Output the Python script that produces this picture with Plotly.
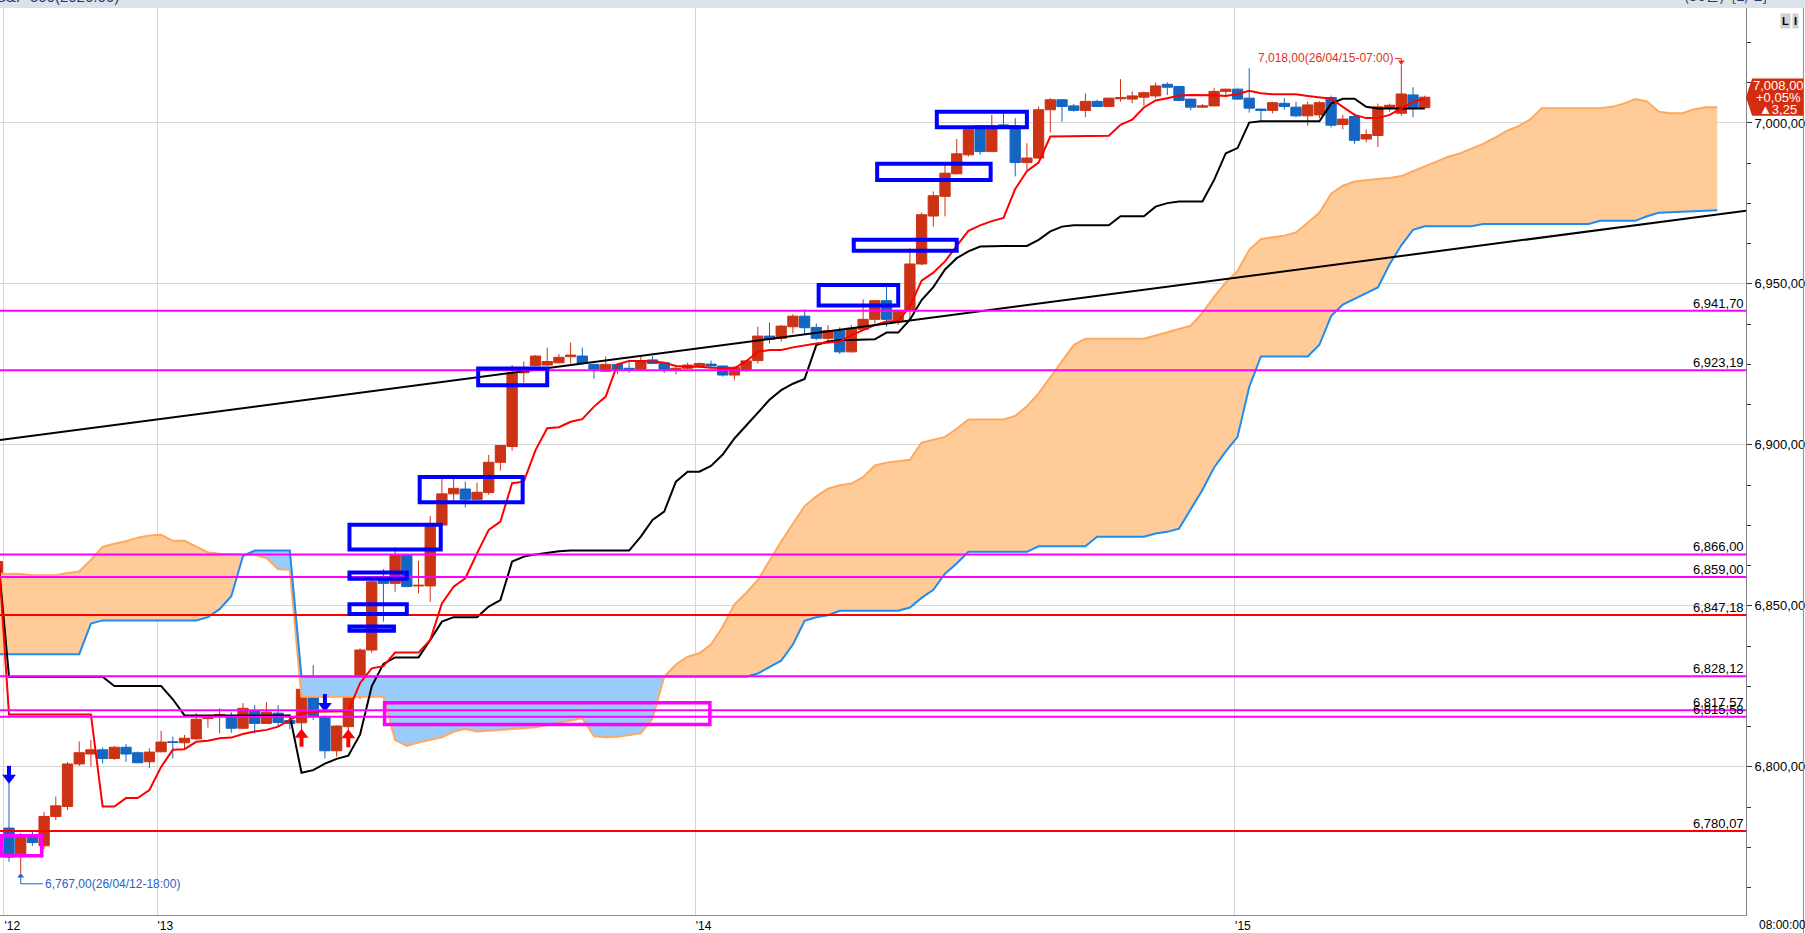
import plotly.graph_objects as go

# ---- data (30-minute bars, bar 0 = first bar after the weekend gap) ----
candle_k = list(range(-1, 122))
opens = [
    6859.1, 6781.0, 6773.0, 6778.5, 6775.5, 6784.6, 6787.7, 6800.9, 6804.0, 6805.3,
    6802.6, 6806.1, 6804.4, 6801.6, 6804.7, 6807.8, 6807.5, 6808.7, 6815.0, 6815.9,
    6815.6, 6812.0, 6817.5, 6813.5, 6816.7, 6814.4, 6813.7, 6824.4, 6815.4, 6805.0,
    6812.5, 6821.8, 6836.3, 6858.3, 6857.0, 6865.8, 6856.2, 6856.2, 6875.1, 6884.8,
    6886.3, 6883.1, 6885.2, 6894.6, 6899.5, 6922.4, 6924.6, 6924.8, 6925.5, 6927.4,
    6927.6, 6925.0, 6922.9, 6925.0, 6923.8, 6923.5, 6926.4, 6925.5, 6923.1, 6923.8,
    6924.3, 6925.1, 6924.5, 6921.7, 6923.3, 6926.2, 6933.8, 6933.1, 6936.7, 6940.0,
    6936.5, 6933.1, 6935.5, 6928.9, 6935.9, 6939.0, 6944.8, 6938.7, 6941.8, 6956.2,
    6971.1, 6977.2, 6984.2, 6990.1, 6999.1, 6991.1, 6999.4, 6999.1, 6987.7, 6989.1,
    7004.1, 7007.2, 7005.3, 7003.9, 7006.7, 7005.1, 7007.5, 7007.4, 7008.0, 7008.4,
    7012.0, 7011.3, 7007.4, 7004.9, 7005.3, 7009.8, 7010.5, 7007.7, 7004.3, 7003.9,
    7006.1, 7004.9, 7002.2, 7002.5, 7007.9, 6999.5, 7002.0, 6995.0, 6996.1, 7004.8,
    7003.0, 7008.7, 7004.75,
]
highs = [
    6864.5, 6795.0, 6779.5, 6780.0, 6786.0, 6790.8, 6801.5, 6807.9, 6808.4, 6806.0,
    6806.5, 6807.1, 6804.8, 6805.8, 6811.2, 6809.4, 6809.9, 6816.7, 6816.0, 6818.2,
    6817.0, 6819.8, 6819.2, 6820.1, 6819.2, 6815.6, 6824.3, 6831.6, 6816.0, 6812.9,
    6824.7, 6836.8, 6858.0, 6861.4, 6868.2, 6866.0, 6864.0, 6877.9, 6889.6, 6889.6,
    6888.6, 6888.3, 6896.9, 6900.0, 6924.8, 6925.9, 6927.9, 6930.2, 6928.2, 6931.8,
    6930.2, 6925.2, 6927.5, 6925.2, 6925.9, 6927.4, 6927.6, 6925.7, 6924.8, 6925.5,
    6925.6, 6926.2, 6924.7, 6924.4, 6926.2, 6936.7, 6938.0, 6937.2, 6940.6, 6942.1,
    6937.7, 6937.2, 6936.5, 6937.2, 6945.2, 6945.0, 6949.6, 6942.0, 6961.1, 6972.2,
    6978.7, 6987.0, 6995.0, 6998.1, 6999.4, 7002.5, 7003.5, 7001.5, 6993.7, 7005.1,
    7007.7, 7007.4, 7005.9, 7009.2, 7007.2, 7007.8, 7013.6, 7009.8, 7009.8, 7012.6,
    7012.6, 7011.5, 7007.5, 7005.9, 7010.8, 7010.6, 7010.7, 7017.0, 7004.4, 7006.6,
    7007.7, 7006.6, 7006.6, 7006.8, 7008.5, 7002.5, 7003.0, 6998.0, 7006.0, 7006.0,
    7018.0, 7011.1, 7008.5,
]
lows = [
    6858.5, 6770.5, 6767.0, 6775.5, 6774.5, 6783.5, 6786.6, 6800.3, 6800.1, 6801.1,
    6802.2, 6801.6, 6801.1, 6799.6, 6804.5, 6802.6, 6805.3, 6808.5, 6812.2, 6810.4,
    6810.6, 6811.8, 6810.4, 6813.3, 6812.5, 6811.7, 6811.5, 6814.6, 6802.6, 6803.2,
    6811.0, 6821.0, 6835.5, 6845.1, 6854.4, 6855.8, 6853.9, 6851.3, 6874.8, 6882.9,
    6880.6, 6883.0, 6884.5, 6892.0, 6898.2, 6919.3, 6924.4, 6924.6, 6925.3, 6925.3,
    6925.0, 6920.5, 6922.7, 6922.0, 6922.4, 6923.3, 6925.1, 6922.4, 6922.0, 6923.3,
    6924.0, 6923.8, 6921.2, 6920.1, 6922.7, 6925.3, 6931.5, 6932.1, 6934.6, 6934.6,
    6932.6, 6931.5, 6928.2, 6928.7, 6935.5, 6937.7, 6936.7, 6937.3, 6938.9, 6955.8,
    6967.8, 6971.0, 6984.0, 6989.6, 6990.1, 6991.0, 6999.0, 6983.4, 6985.4, 6988.8,
    6997.0, 7000.4, 7003.5, 7001.8, 7005.0, 7005.0, 7006.6, 7006.1, 7005.3, 7007.7,
    7008.7, 7006.7, 7003.9, 7004.7, 7005.2, 7008.4, 7007.2, 7003.2, 7000.4, 7003.0,
    7004.1, 7001.8, 6999.1, 7001.5, 6998.6, 6998.0, 6993.5, 6994.0, 6992.5, 7003.5,
    7002.2, 7001.8, 7004.3,
]
closes = [
    6863.8, 6772.0, 6778.5, 6776.5, 6784.6, 6787.9, 6800.9, 6804.4, 6805.3, 6802.6,
    6806.1, 6804.0, 6801.3, 6804.6, 6807.7, 6807.6, 6808.9, 6814.8, 6815.8, 6816.3,
    6812.0, 6818.2, 6813.5, 6817.0, 6813.8, 6813.5, 6824.1, 6815.8, 6805.0, 6812.7,
    6822.6, 6836.3, 6857.5, 6857.0, 6865.8, 6856.0, 6856.4, 6874.9, 6884.8, 6886.5,
    6883.1, 6885.3, 6894.6, 6899.8, 6922.4, 6923.3, 6927.6, 6925.9, 6927.2, 6927.9,
    6925.3, 6923.5, 6925.0, 6923.5, 6923.5, 6926.2, 6925.3, 6923.5, 6923.8, 6924.8,
    6925.3, 6924.5, 6921.7, 6924.1, 6926.1, 6933.8, 6932.8, 6936.9, 6940.0, 6936.4,
    6933.1, 6935.5, 6928.9, 6936.2, 6939.0, 6944.8, 6939.0, 6941.8, 6956.2, 6971.5,
    6977.4, 6984.4, 6990.4, 6997.9, 6991.1, 6999.1, 6999.1, 6987.7, 6989.1, 7004.1,
    7007.2, 7005.1, 7003.9, 7006.7, 7005.1, 7007.7, 7007.9, 7008.4, 7009.4, 7011.5,
    7011.1, 7007.0, 7004.9, 7005.3, 7009.8, 7010.5, 7007.4, 7004.6, 7003.9, 7006.3,
    7005.1, 7002.2, 7005.6, 7006.3, 6999.3, 7001.2, 6994.6, 6996.4, 7005.0, 7005.5,
    7009.0, 7004.75, 7008.0,
]

tenkan = [
    6871.0, 6816.3, 6816.3, 6816.3, 6816.3, 6816.3, 6816.3, 6816.3, 6816.3, 6787.7,
    6787.7, 6790.3, 6790.3, 6792.8, 6800.0, 6805.3, 6805.5, 6807.8, 6808.1, 6808.9,
    6809.1, 6810.2, 6811.0, 6811.5, 6812.5, 6814.6, 6816.5, 6817.1, 6817.1, 6817.1,
    6817.3, 6826.0, 6830.6, 6831.3, 6835.5, 6835.5, 6835.5, 6839.4, 6850.8, 6856.0,
    6858.6, 6866.3, 6873.6, 6876.2, 6888.1, 6888.6, 6898.4, 6905.2, 6905.5, 6907.2,
    6908.0, 6911.9, 6915.0, 6925.0, 6926.1, 6926.1, 6926.0, 6925.5, 6924.5, 6924.3,
    6924.3, 6924.0, 6923.8, 6923.8, 6926.0, 6928.9, 6929.5, 6929.5, 6930.3, 6931.0,
    6931.5, 6931.8, 6932.1, 6934.1, 6935.7, 6937.2, 6938.3, 6938.5, 6943.0, 6951.0,
    6953.5, 6957.0, 6961.8, 6966.5, 6968.2, 6969.5, 6970.5, 6979.5, 6985.0, 6987.7,
    6995.8, 6995.8, 6995.8, 6995.8, 6995.8, 6996.0, 6999.4, 7001.0, 7004.8, 7007.0,
    7007.7, 7008.5, 7008.7, 7008.7, 7008.6, 7008.4, 7009.0, 7010.0, 7009.2, 7008.9,
    7008.9, 7008.9, 7008.4, 7008.0, 7007.5, 7005.0, 7002.5, 7001.5, 7001.5, 7002.5,
    7004.5, 7006.5, 7007.5,
]
kijun = [
    6868.0, 6828.0, 6828.0, 6828.0, 6828.0, 6828.0, 6828.0, 6828.0, 6828.0, 6828.0,
    6825.1, 6825.1, 6825.1, 6825.1, 6825.1, 6821.0, 6816.0, 6816.0, 6816.0, 6816.0,
    6816.0, 6816.0, 6816.0, 6816.0, 6816.0, 6816.0, 6798.2, 6799.0, 6801.0, 6802.5,
    6803.5, 6810.0, 6825.0, 6832.0, 6834.0, 6834.0, 6834.0, 6839.4, 6845.1, 6846.5,
    6846.5, 6846.5, 6849.8, 6851.8, 6863.8, 6865.3, 6866.0, 6866.6, 6867.0, 6867.2,
    6867.2, 6867.2, 6867.2, 6867.2, 6867.2, 6871.5, 6876.7, 6879.3, 6888.6, 6891.7,
    6891.7, 6893.5, 6897.0, 6902.0, 6906.0, 6910.0, 6914.0, 6917.0, 6919.0, 6920.5,
    6931.0, 6932.1, 6932.6, 6932.6, 6932.8, 6932.8, 6934.9, 6934.9, 6938.9, 6945.0,
    6949.0, 6954.5, 6958.0, 6960.1, 6961.6, 6961.8, 6961.8, 6961.8, 6961.8, 6963.7,
    6966.3, 6967.8, 6968.2, 6968.2, 6968.2, 6968.2, 6971.0, 6971.0, 6971.0, 6974.0,
    6975.1, 6975.6, 6975.6, 6975.6, 6982.3, 6990.6, 6992.2, 7000.1, 7000.5, 7000.5,
    7000.5, 7000.5, 7000.5, 7000.5, 7006.0, 7007.5, 7007.5, 7005.0, 7004.5, 7004.5,
    7004.5, 7004.5, 7004.5,
]

# leading spans run 25 bars past the last candle
span_k = list(range(-1, 147))
span_a = [
    6860.0, 6859.9, 6859.9, 6859.5, 6859.5, 6859.5, 6860.2, 6860.7, 6864.3, 6868.3,
    6869.3, 6870.1, 6871.2, 6871.9, 6872.1, 6870.2, 6870.2, 6868.3, 6866.6, 6866.2,
    6866.2, 6866.0, 6865.8, 6864.9, 6861.4, 6861.2, 6821.8, 6821.8, 6821.8, 6821.8,
    6821.8, 6821.8, 6821.8, 6821.8, 6808.3, 6806.5, 6807.6, 6808.5, 6809.2, 6810.9,
    6811.8, 6811.0, 6811.2, 6811.5, 6811.8, 6812.0, 6812.3, 6813.0, 6813.7, 6814.4,
    6815.1, 6809.5, 6809.2, 6809.4, 6809.8, 6810.4, 6815.0, 6828.0, 6831.8, 6834.2,
    6835.3, 6838.0, 6843.5, 6850.5, 6854.0, 6858.0, 6864.0, 6870.0, 6875.5, 6881.0,
    6884.0, 6886.4, 6887.5, 6888.0, 6890.0, 6893.6, 6894.5, 6895.0, 6895.4, 6900.7,
    6901.5, 6902.5, 6905.0, 6907.9, 6907.9, 6907.9, 6907.9, 6909.0, 6912.0, 6916.0,
    6921.0, 6926.0, 6931.0, 6933.0, 6933.0, 6933.0, 6933.0, 6933.0, 6933.0, 6934.0,
    6935.0, 6936.0, 6937.0, 6941.0, 6946.0, 6950.5, 6954.0, 6960.6, 6963.9, 6964.5,
    6965.0, 6966.0, 6969.0, 6972.1, 6978.0, 6980.5, 6981.8, 6982.3, 6982.6, 6982.9,
    6983.5, 6985.0, 6986.4, 6988.0, 6989.5, 6990.5, 6992.0, 6993.5, 6995.4, 6997.5,
    6999.0, 7001.0, 7004.6, 7004.6, 7004.6, 7004.6, 7004.6, 7004.6, 7005.0, 7006.0,
    7007.4, 7006.7, 7003.5, 7003.0, 7003.0, 7004.2, 7004.9, 7004.9,
]
span_b = [
    6835.0, 6835.0, 6835.0, 6835.0, 6835.0, 6835.0, 6835.0, 6835.0, 6844.5, 6845.5,
    6845.5, 6845.5, 6845.5, 6845.5, 6845.5, 6845.5, 6845.5, 6845.5, 6846.5, 6849.0,
    6853.0, 6865.5, 6867.2, 6867.2, 6867.2, 6867.2, 6828.0, 6828.0, 6828.0, 6828.0,
    6828.0, 6828.0, 6828.0, 6828.0, 6828.0, 6828.0, 6828.0, 6828.0, 6828.0, 6828.0,
    6828.0, 6828.0, 6828.0, 6828.0, 6828.0, 6828.0, 6828.0, 6828.0, 6828.0, 6828.0,
    6828.0, 6828.0, 6828.0, 6828.0, 6828.0, 6828.0, 6828.0, 6828.0, 6828.0, 6828.0,
    6828.0, 6828.0, 6828.0, 6828.0, 6828.0, 6829.0, 6831.0, 6833.0, 6838.0, 6845.4,
    6846.5, 6847.1, 6848.5, 6848.5, 6848.5, 6848.5, 6848.5, 6848.5, 6849.5, 6852.5,
    6855.0, 6860.0, 6863.2, 6866.8, 6866.8, 6866.8, 6866.8, 6866.8, 6866.8, 6868.5,
    6868.5, 6868.5, 6868.5, 6868.5, 6871.5, 6871.5, 6871.5, 6871.5, 6871.5, 6872.5,
    6873.0, 6874.0, 6880.0, 6886.0, 6893.0, 6898.0, 6902.5, 6918.0, 6927.5, 6927.5,
    6927.5, 6927.5, 6927.5, 6931.1, 6940.0, 6943.6, 6945.4, 6947.0, 6948.9, 6956.1,
    6962.0, 6966.8, 6967.9, 6967.9, 6967.9, 6967.9, 6967.9, 6968.6, 6968.6, 6968.6,
    6968.6, 6968.6, 6968.6, 6968.6, 6968.6, 6968.6, 6968.6, 6969.6, 6969.6, 6969.6,
    6969.6, 6971.0, 6972.1, 6972.3, 6972.5, 6972.7, 6972.9, 6972.9,
]

trend_k = [-1, 149]
trend_val = [6901.4, 6973.0]

magenta_levels = [6941.70, 6923.19, 6866.00, 6859.00, 6828.12, 6817.57, 6815.58]
red_levels = [6847.18, 6780.07]

# drawn boxes: (k from, k to, low, high)
blue_box_k0 = [40.1, 35.1, 29.1, 29.1, 29.1, 29.1, 69.2, 72.2, 74.2, 79.3]
blue_box_k1 = [46.0, 43.9, 36.9, 34.0, 34.0, 32.9, 76.0, 81.0, 83.9, 87.0]
blue_box_lo = [6918.5, 6882.2, 6867.5, 6858.4, 6847.5, 6842.3, 6943.3, 6960.3, 6982.3, 6998.7]
blue_box_hi = [6923.7, 6890.0, 6875.2, 6860.4, 6850.5, 6843.6, 6949.7, 6963.7, 6987.3, 7003.5]
pink_box_k0 = [-0.64, 32.1]
pink_box_k1 = [2.8, 59.9]
pink_box_lo = [6772.4, 6813.2]
pink_box_hi = [6778.6, 6819.9]

sell_k = [0, 27]
sell_tip = [6795.4, 6817.7]
buy_k = [25, 29]
buy_tip = [6811.2, 6811.0]

day_ticks = [-0.43, 12.65, 58.65, 104.75]
day_labels = ["'12", "'13", "'14", "'15"]
price_ticks = [6800, 6850, 6900, 6950, 7000]

hi_time = "26/04/15-07:00"
lo_time = "26/04/12-18:00"
badge_lines = ["7,008,00", "+0,05%", "▲3,25"]

RED = "#cc3314"
BLUE = "#1565c2"
FONT = "Liberation Sans Narrow, Liberation Sans, Arial"


def krw(v):
    return f"{v:,.2f}".replace(".", ",")


fig = go.Figure()

# ichimoku cloud: orange where span A is on top, light blue where span B is on top
upper = [max(a, b) for a, b in zip(span_a, span_b)]
fig.add_trace(go.Scatter(x=span_k, y=span_b, mode="lines", line=dict(width=0)))
fig.add_trace(go.Scatter(x=span_k, y=upper, mode="lines", line=dict(width=0),
                         fill="tonexty", fillcolor="#ffcc99"))
fig.add_trace(go.Scatter(x=span_k, y=span_a, mode="lines", line=dict(width=0)))
fig.add_trace(go.Scatter(x=span_k, y=upper, mode="lines", line=dict(width=0),
                         fill="tonexty", fillcolor="#99cbfb"))
fig.add_trace(go.Scatter(x=span_k, y=span_a, mode="lines", line=dict(color="#ffa95f", width=2)))
fig.add_trace(go.Scatter(x=span_k, y=span_b, mode="lines", line=dict(color="#1e8cf0", width=2)))

fig.add_trace(go.Candlestick(
    x=candle_k, open=opens, high=highs, low=lows, close=closes,
    increasing=dict(fillcolor=RED, line=dict(color=RED, width=1)),
    decreasing=dict(fillcolor=BLUE, line=dict(color=BLUE, width=1)),
    whiskerwidth=0,
))

fig.add_trace(go.Scatter(x=candle_k, y=kijun, mode="lines", line=dict(color="black", width=2)))
fig.add_trace(go.Scatter(x=candle_k, y=tenkan, mode="lines", line=dict(color="#ff0000", width=2)))
fig.add_trace(go.Scatter(x=trend_k, y=trend_val, mode="lines", line=dict(color="black", width=2)))

# signal arrows
fig.add_trace(go.Scatter(x=sell_k, y=[t + 3.4 for t in sell_tip], mode="markers",
                         marker=dict(symbol="line-ns", size=7, line=dict(color="#0000ff", width=4))))
fig.add_trace(go.Scatter(x=sell_k, y=[t + 1.2 for t in sell_tip], mode="markers",
                         marker=dict(symbol="triangle-down", size=12, color="#0000ff")))
fig.add_trace(go.Scatter(x=buy_k, y=[t - 3.4 for t in buy_tip], mode="markers",
                         marker=dict(symbol="line-ns", size=7, line=dict(color="#ff0000", width=4))))
fig.add_trace(go.Scatter(x=buy_k, y=[t - 1.2 for t in buy_tip], mode="markers",
                         marker=dict(symbol="triangle-up", size=12, color="#ff0000")))

# high / low callouts
hi_i = highs.index(max(highs))
lo_i = lows.index(min(lows))
hi_k, hi_v = candle_k[hi_i], highs[hi_i]
lo_k, lo_v = candle_k[lo_i], lows[lo_i]
fig.add_trace(go.Scatter(x=[hi_k - 0.55, hi_k, hi_k], y=[hi_v + 2.0, hi_v + 2.0, hi_v + 1.0],
                         mode="lines", line=dict(color="#e0301e", width=1)))
fig.add_trace(go.Scatter(x=[hi_k], y=[hi_v + 0.9], mode="markers",
                         marker=dict(symbol="triangle-down", size=6, color="#e0301e")))
fig.add_trace(go.Scatter(x=[lo_k, lo_k, lo_k + 1.9], y=[lo_v - 0.6, lo_v - 3.3, lo_v - 3.3],
                         mode="lines", line=dict(color="#2a62c8", width=1)))
fig.add_trace(go.Scatter(x=[lo_k], y=[lo_v - 0.9], mode="markers",
                         marker=dict(symbol="triangle-up", size=6, color="#2a62c8")))

shapes = []
for lv in magenta_levels:
    shapes.append(dict(type="line", xref="paper", x0=0, x1=1, yref="y", y0=lv, y1=lv,
                       line=dict(color="#ff00ff", width=2), layer="above"))
for lv in red_levels:
    shapes.append(dict(type="line", xref="paper", x0=0, x1=1, yref="y", y0=lv, y1=lv,
                       line=dict(color="#ff0000", width=2), layer="above"))
for a, b, lo, hi in zip(blue_box_k0, blue_box_k1, blue_box_lo, blue_box_hi):
    shapes.append(dict(type="rect", x0=a, x1=b, y0=lo, y1=hi,
                       line=dict(color="#0000ff", width=4), layer="above"))
for a, b, lo, hi in zip(pink_box_k0, pink_box_k1, pink_box_lo, pink_box_hi):
    shapes.append(dict(type="rect", x0=a, x1=b, y0=lo, y1=hi,
                       line=dict(color="#ff00ff", width=3.5), layer="above"))

# header strip, right border, price badge
shapes.append(dict(type="rect", xref="paper", yref="paper", x0=-0.01, x1=1.04, y0=1, y1=1.02,
                   fillcolor="#dde2ea", line=dict(width=0)))
shapes.append(dict(type="line", xref="paper", yref="paper", x0=1.0329, x1=1.0329, y0=-0.03, y1=1,
                   line=dict(color="#8c8c8c", width=1)))
last = closes[-1]
shapes.append(dict(type="path", xref="paper", yref="y",
                   path=f"M 1.0,{last} L 1.0035,{last + 5.8} L 1.0329,{last + 5.8} "
                        f"L 1.0329,{last - 5.8} L 1.0035,{last - 5.8} Z",
                   fillcolor="#d22d10", line=dict(width=0), layer="above"))

annotations = []
for lv in magenta_levels + red_levels:
    annotations.append(dict(xref="paper", x=1, xanchor="right", y=lv, yanchor="bottom", yshift=-2,
                            text=krw(lv), showarrow=False, font=dict(size=13, color="black")))
annotations.append(dict(x=hi_k - 0.55, xanchor="right", y=hi_v + 2.0, yanchor="middle", yshift=1,
                        text=f"{krw(hi_v)}({hi_time})", showarrow=False,
                        font=dict(size=12, color="#e0301e")))
annotations.append(dict(x=lo_k + 1.9, xanchor="left", y=lo_v - 3.3, yanchor="middle",
                        text=f"{krw(lo_v)}({lo_time})", showarrow=False,
                        font=dict(size=12, color="#2a62c8")))
for i, line_txt in enumerate(badge_lines):
    annotations.append(dict(xref="paper", x=1.0185, xanchor="center", y=last, yanchor="middle",
                            yshift=12 - 12 * i, text=line_txt, showarrow=False,
                            font=dict(size=13, color="white")))
annotations.append(dict(xref="paper", x=1.0063, xanchor="left", yref="paper", y=0, yanchor="top",
                        yshift=-1, text="08:00:00", showarrow=False, font=dict(size=12, color="black")))
annotations.append(dict(xref="paper", x=0, xanchor="left", xshift=-6, yref="paper", y=1,
                        yanchor="bottom", yshift=1, text="S&P 500(2026.06)", showarrow=False,
                        font=dict(size=15, color="#1f3d6e")))
annotations.append(dict(xref="paper", x=1.013, xanchor="right", yref="paper", y=1,
                        yanchor="bottom", yshift=1, text="(30분)  [2/ 2]", showarrow=False,
                        font=dict(size=15, color="#1f3d6e", family="Noto Sans CJK KR")))
annotations.append(dict(xref="paper", x=1.0225, xanchor="center", yref="paper", y=0.9855,
                        yanchor="middle", text="<b>L</b>", showarrow=False, bgcolor="#d0d0d0",
                        font=dict(size=11, color="black")))
annotations.append(dict(xref="paper", x=1.0285, xanchor="center", yref="paper", y=0.9855,
                        yanchor="middle", text="<b>I</b>", showarrow=False, bgcolor="#d0d0d0",
                        font=dict(size=11, color="black")))

fig.update_layout(
    width=1805, height=933,
    margin=dict(l=0, r=59, t=8, b=18, pad=0),
    paper_bgcolor="white", plot_bgcolor="white",
    showlegend=False,
    boxgap=0.12, boxgroupgap=0.0,
    font=dict(family=FONT, size=12, color="black"),
    shapes=shapes, annotations=annotations,
    xaxis=dict(range=[-0.77, 148.46], tickmode="array", tickvals=day_ticks, ticktext=day_labels,
               showgrid=True, gridcolor="#d6d6d6", gridwidth=1, zeroline=False,
               showline=True, linecolor="#8c8c8c", ticks="", ticklabelposition="outside right",
               tickfont=dict(size=12), rangeslider=dict(visible=False)),
    yaxis=dict(range=[6754.0, 7035.7], side="right", tickmode="array", tickvals=price_ticks,
               ticktext=[krw(v) for v in price_ticks], showgrid=True, gridcolor="#d6d6d6",
               zeroline=False, showline=True, linecolor="#7f7f7f", ticks="outside", ticklen=5,
               tickcolor="#333333", tickfont=dict(size=13),
               minor=dict(tick0=6800, dtick=12.5, ticks="outside", ticklen=4,
                          tickcolor="#333333", showgrid=False)),
)

# the page body has a default margin; drop it so the figure sits at the window's corner
fig.write_html("out.html", config={"displayModeBar": False},
               post_script="document.body.style.margin='0';"
                           "document.body.style.overflow='hidden';")
